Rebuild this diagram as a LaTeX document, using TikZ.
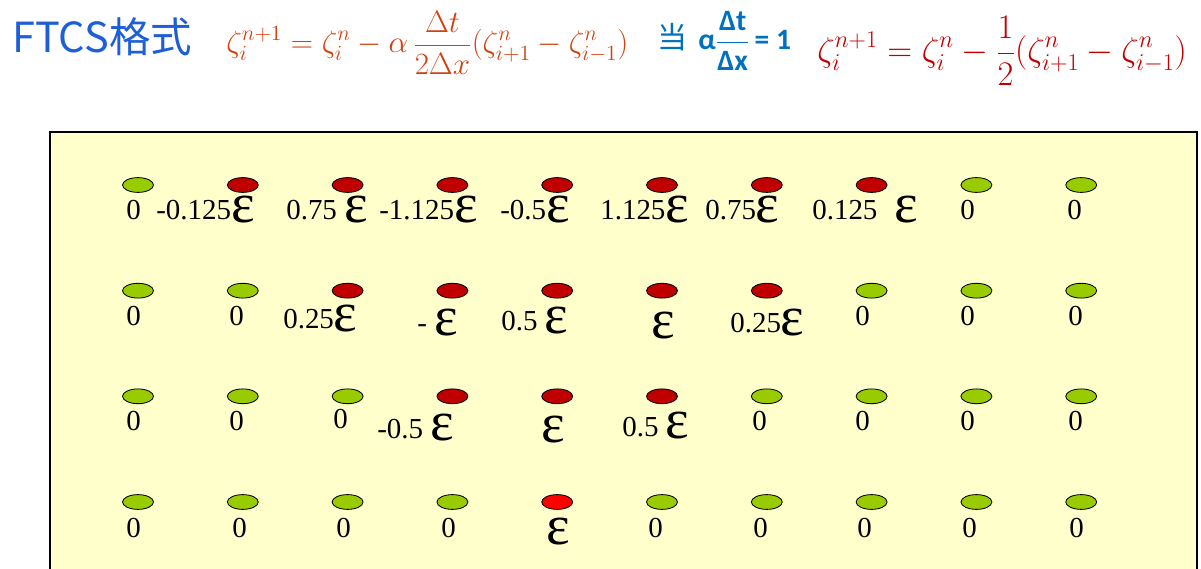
\RequirePackage{fix-cm}
\documentclass[tikz,border=0pt]{standalone}
\usepackage{amsmath}
\usepackage{fontspec}
\usetikzlibrary{shapes.geometric}
\setmainfont{Liberation Serif}
\newfontfamily\cjkfont{Noto Sans CJK SC}
\newfontfamily\calfont{Carlito}
\definecolor{dotg}{HTML}{99CC00}
\definecolor{dotr}{HTML}{C00000}
\definecolor{dotR}{HTML}{FF0000}
\definecolor{paper}{HTML}{FFFFCC}
\definecolor{titleblue}{RGB}{30,95,215}
\definecolor{condblue}{HTML}{0070C0}
\definecolor{orangered}{RGB}{210,65,15}
\definecolor{darkred}{HTML}{C00000}
\newcommand{\eps}{\raisebox{-2pt}{\fontsize{40}{40}\selectfont ε}}
\tikzset{
  dot/.style={ellipse,draw,line width=0.6pt,minimum width=22pt,minimum height=10.5pt,inner sep=0},
  lbl/.style={anchor=base west,inner sep=0,font=\fontsize{20.6}{24}\selectfont}
}
\begin{document}
\begin{tikzpicture}[x=0.025cm,y=-0.025cm]
        \useasboundingbox (0,0) rectangle (1201,569);
        %% heading
        \node[anchor=base west,inner sep=0,text=titleblue,font=\cjkfont\fontsize{29.5}{34}\selectfont] (title) at (12,53) {FTCS格式};
        \node[anchor=base west,inner sep=0,text=orangered,font=\fontsize{22}{26}\selectfont] (ftcs) at (226,53)
            {$\displaystyle\zeta_i^{n+1}=\zeta_i^n-\alpha\,\frac{\Delta t}{2\Delta x}(\zeta_{i+1}^n-\zeta_{i-1}^n)$};
        \node[anchor=base west,inner sep=0,text=condblue,font=\cjkfont\fontsize{21.3}{24}\selectfont] (when) at (657,49) {当};
        \node[anchor=base west,inner sep=0,text=condblue,font=\calfont\bfseries\fontsize{21}{24}\selectfont] (cond) at (698,50)
            {α$\genfrac{}{}{1.2pt}{0}{\text{Δt}}{\text{Δx}}$\,= 1};
        \node[anchor=base west,inner sep=0,text=darkred,font=\fontsize{24.5}{28}\selectfont] (simple) at (817,62)
            {$\displaystyle\zeta_i^{n+1}=\zeta_i^n-\frac{1}{2}(\zeta_{i+1}^n-\zeta_{i-1}^n)$};
        %% grid box
        \draw[line width=1.1pt,fill=paper] (50,132) rectangle (1197,600);
        %% points
        \foreach \r/\y/\cols in {1/185/{g,r,r,r,r,r,r,r,g,g},2/290.7/{g,g,r,r,r,r,r,g,g,g},
                                 3/396.3/{g,g,g,r,r,r,g,g,g,g},4/502/{g,g,g,g,R,g,g,g,g,g}}
            \foreach \k [count=\c from 0] in \cols
                \node[dot,fill=dot\k] (d\r-\c) at (138+104.8*\c,\y) {};
        %% values
        \foreach \x/\y/\t [count=\n] in {126/220/0,156/220/-0.125\eps,286/220/0.75 \eps,379/220/-1.125\eps,
                500/220/-0.5\eps,600/220/1.125\eps,705/220/0.75\eps,812/220/0.125\hspace{12pt}\eps,960/220/0,1067/220/0}
            \node[lbl] (t1-\n) at (\x,\y) {\t};
        \foreach \x/\y/\t [count=\n] in {126/326/0,229/326/0,283/329/0.25\eps,417/333/- \eps,501/331/0.5 \eps,
                651/336/\eps,730/333/0.25\eps,855/326/0,960/326/0,1068/326/0}
            \node[lbl] (t2-\n) at (\x,\y) {\t};
        \foreach \x/\y/\t [count=\n] in {126/431/0,229/431/0,333/428/0,377/438/-0.5 \eps,541/440/\eps,
                622/436/0.5 \eps,752/431/0,855/431/0,960/431/0,1068/431/0}
            \node[lbl] (t3-\n) at (\x,\y) {\t};
        \foreach \x/\y/\t [count=\n] in {126/537/0,232/537/0,336/537/0,441/537/0,546/542/\eps,
                648/537/0,753/537/0,857/537/0,962/537/0,1069/537/0}
            \node[lbl] (t4-\n) at (\x,\y) {\t};
    \end{tikzpicture}
\end{document}
